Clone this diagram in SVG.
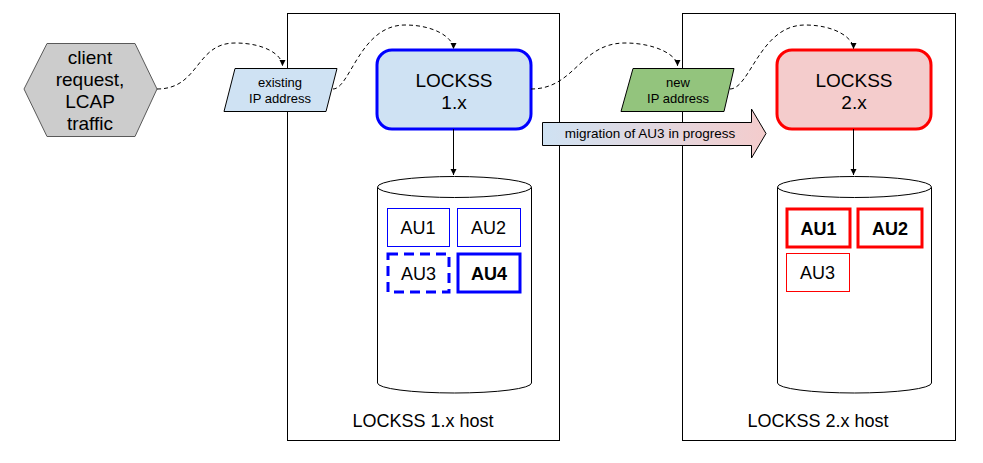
<svg xmlns="http://www.w3.org/2000/svg" width="983" height="463" viewBox="0 0 983 463">
<defs>
<style>
text{font-family:"Liberation Sans",Arial,sans-serif;fill:#000;text-anchor:middle}
.host{fill:#fff;stroke:#000;stroke-width:1}
.dash{fill:none;stroke:#000;stroke-width:1;stroke-dasharray:4,3}
.solid{fill:none;stroke:#000;stroke-width:1}
.cyl{fill:#fff;stroke:#000;stroke-width:1}
.t19{font-size:19px}
.t18{font-size:18px}
.t13{font-size:13px}
.t135{font-size:13.5px}
.b{font-weight:bold}
</style>
<marker id="ah" markerWidth="8" markerHeight="8" refX="6" refY="3" orient="auto" markerUnits="userSpaceOnUse">
<path d="M0,0 L6,3 L0,6 Z" fill="#000"/>
</marker>
<linearGradient id="mig" x1="0" y1="0" x2="1" y2="0">
<stop offset="0" stop-color="#cfe2f3"/>
<stop offset="1" stop-color="#f4cccc"/>
</linearGradient>
</defs>
<rect width="983" height="463" fill="#fff"/>

<g id="host1">
<rect class="host" x="287.5" y="13.5" width="272" height="427"/>
<text class="t18" x="423" y="427">LOCKSS 1.x host</text>
</g>
<g id="host2">
<rect class="host" x="682.5" y="13.5" width="273" height="427"/>
<text class="t18" x="818" y="427">LOCKSS 2.x host</text>
</g>

<g id="client">
<polygon points="24,89 47,43.5 135,43.5 157,89 135,136.5 47,136.5" fill="#cccccc" stroke="#595959" stroke-width="1"/>
<text class="t19" x="90" y="63.5">client</text>
<text class="t19" x="90" y="85.5">request,</text>
<text class="t19" x="90" y="107.5">LCAP</text>
<text class="t19" x="90" y="129.5">traffic</text>
</g>

<g id="existing-ip">
<polygon points="235,68.5 337,68.5 326,111.5 224,111.5" fill="#cfe2f3" stroke="#000" stroke-width="1"/>
<text class="t13" x="280" y="87">existing</text>
<text class="t13" x="280" y="102.5">IP address</text>
</g>

<g id="new-ip">
<polygon points="633,68.5 734,68.5 724,111.5 621,111.5" fill="#93c47d" stroke="#000" stroke-width="1"/>
<text class="t13" x="678" y="87">new</text>
<text class="t13" x="678" y="102.5">IP address</text>
</g>

<g id="lockss1">
<rect x="377" y="50" width="154" height="79" rx="15" ry="15" fill="#cfe2f3" stroke="#0000ff" stroke-width="3"/>
<text class="t19" x="454" y="87">LOCKSS</text>
<text class="t19" x="454" y="109">1.x</text>
</g>

<g id="lockss2">
<rect x="777" y="50" width="154" height="79" rx="15" ry="15" fill="#f4cccc" stroke="#ff0000" stroke-width="3"/>
<text class="t19" x="854" y="87">LOCKSS</text>
<text class="t19" x="854" y="109">2.x</text>
</g>

<g id="migration">
<polygon points="542.5,122.5 751.5,122.5 751.5,109 766,133.5 751.5,158 751.5,145.5 542.5,145.5" fill="url(#mig)" stroke="#000" stroke-width="1"/>
<text class="t135" x="650" y="138">migration of AU3 in progress</text>
</g>

<g id="storage1">
<path class="cyl" d="M377.5,187 L377.5,383 A77,10 0 0 0 531.5,383 L531.5,187"/>
<ellipse class="cyl" cx="454.5" cy="187" rx="77" ry="10.5"/>
</g>
<g id="storage2">
<path class="cyl" d="M777.5,187 L777.5,383 A77,10 0 0 0 931.5,383 L931.5,187"/>
<ellipse class="cyl" cx="854.5" cy="187" rx="77" ry="10.5"/>
</g>

<g id="au1-v1">
<rect x="387.5" y="208.5" width="62" height="38" fill="#fff" stroke="#0000ff" stroke-width="1"/>
<text class="t18" x="418" y="233.5">AU1</text>
</g>
<g id="au2-v1">
<rect x="457.5" y="208.5" width="63" height="38" fill="#fff" stroke="#0000ff" stroke-width="1"/>
<text class="t18" x="488.5" y="233.5">AU2</text>
</g>
<g id="au3-v1">
<rect x="388" y="254" width="61" height="38" fill="#fff" stroke="#0000ff" stroke-width="3" stroke-dasharray="10,6"/>
<text class="t18" x="418.5" y="279.5">AU3</text>
</g>
<g id="au4-v1">
<rect x="458" y="254" width="62" height="38" fill="#fff" stroke="#0000ff" stroke-width="3"/>
<text class="t18 b" x="489" y="279.5">AU4</text>
</g>

<g id="au1-v2">
<rect x="787" y="209" width="63" height="38" fill="#fff" stroke="#ff0000" stroke-width="3"/>
<text class="t18 b" x="818.5" y="234.5">AU1</text>
</g>
<g id="au2-v2">
<rect x="858" y="209" width="64" height="38" fill="#fff" stroke="#ff0000" stroke-width="3"/>
<text class="t18 b" x="890" y="234.5">AU2</text>
</g>
<g id="au3-v2">
<rect x="786.5" y="253.5" width="63" height="38" fill="#fff" stroke="#ff0000" stroke-width="1"/>
<text class="t18" x="817.5" y="279">AU3</text>
</g>

<g id="connectors">
<path class="dash" d="M157,89 C200,89 195,43 235,43 C265,43 282.5,55 282.5,66" marker-end="url(#ah)"/>
<path class="dash" d="M333,89 C350,89 360,25 405,25 C435,25 453.5,38 453.5,49" marker-end="url(#ah)"/>
<path class="dash" d="M531,89 C575,89 580,43 625,43 C655,43 677.5,55 677.5,66" marker-end="url(#ah)"/>
<path class="dash" d="M730,89 C750,89 760,25 805,25 C835,25 853.5,38 853.5,49" marker-end="url(#ah)"/>
<path class="solid" d="M453.5,129 L453.5,175" marker-end="url(#ah)"/>
<path class="solid" d="M853.5,129 L853.5,175" marker-end="url(#ah)"/>
</g>
</svg>
